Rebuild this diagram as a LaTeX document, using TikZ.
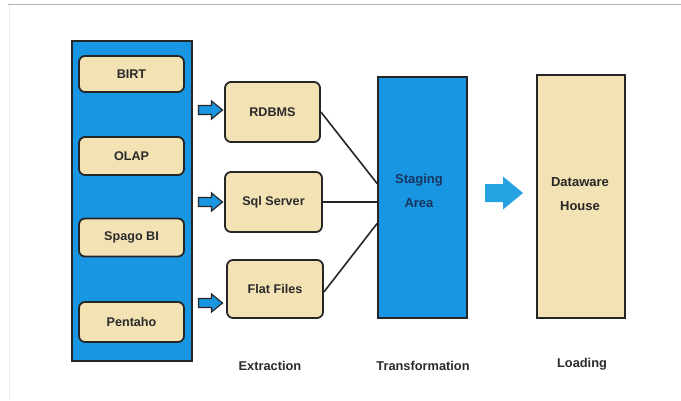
\documentclass[tikz,border=0pt]{standalone}
\usepackage{fontspec}
\setmainfont{Liberation Sans}
\usetikzlibrary{calc}
\definecolor{etlblue}{HTML}{1996E1}
\definecolor{etlblueb}{HTML}{25A2E2}
\definecolor{etltan}{HTML}{F2E2B4}
\definecolor{etltext}{HTML}{2A2A2A}
\definecolor{etlstage}{HTML}{17355F}
\begin{document}
\begin{tikzpicture}[x=1pt,y=-1pt,
  panelbox/.style={draw=black!85,line width=1.8pt,fill=etlblue,inner sep=0pt},
  toolbox/.style={draw=black!85,line width=1.8pt,fill=etltan,rounded corners=6pt,inner sep=0pt,
     font=\bfseries\fontsize{12.6}{15}\selectfont,text=etltext},
  bigbox/.style={draw=black!85,line width=1.8pt,inner sep=0pt},
  bigtext/.style={align=center,inner sep=0pt,font=\bfseries\fontsize{13}{24}\selectfont},
  phase/.style={font=\bfseries\fontsize{12.8}{15}\selectfont,text=etltext},
  link/.style={draw=black!85,line width=1.6pt},
  smallarrow/.pic={\draw[fill=etlblue,draw=black!85,line width=1.2pt,line join=miter]
     (-12,-4.5) -- (1,-4.5) -- (1,-9) -- (12,0) -- (1,9) -- (1,4.5) -- (-12,4.5) -- cycle;},
  bigarrow/.pic={\fill[etlblueb]
     (-19,-9) -- (-1,-9) -- (-1,-16.5) -- (19,0) -- (-1,16.5) -- (-1,9) -- (-19,9) -- cycle;}
]
\useasboundingbox (0,0) rectangle (681,400);
\draw[black!30,line width=1.5pt] (8,4.5) -- (681,4.5);
\draw[black!7,line width=1pt] (9,5) -- (9,400);

% left panel with tools
\node[panelbox,minimum width=120,minimum height=320] (panel) at (132,201) {};
\node[toolbox,minimum width=105,minimum height=36] (birt) at (131.5,74) {BIRT};
\node[toolbox,minimum width=105,minimum height=38] (olap) at (131.5,156) {OLAP};
\node[toolbox,minimum width=105,minimum height=38] (spago) at (131.5,237.5) {Spago BI};
\node[toolbox,minimum width=105,minimum height=40] (pentaho) at (131.5,322) {Pentaho};

% sources
\node[toolbox,minimum width=95,minimum height=60] (rdbms) at (272.5,112) {RDBMS};
\node[toolbox,minimum width=97,minimum height=60] (sql) at (273.5,202) {Sql Server};
\node[toolbox,minimum width=96,minimum height=58] (flat) at (275,289) {Flat Files};

% small arrows
\pic at (210.5,110) {smallarrow};
\pic at (210.5,202) {smallarrow};
\pic at (210.5,303) {smallarrow};

% staging and warehouse
\node[bigbox,fill=etlblue,minimum width=89,minimum height=241] (stage) at (422.5,197.5) {};
\node[bigtext,text=etlstage] (stagetxt) at (419,191) {Staging\\Area};
\node[bigbox,fill=etltan,minimum width=88,minimum height=243] (dw) at (581,196.5) {};
\node[bigtext,text=black!85] (dwtxt) at (580,194) {Dataware\\House};

% links
\draw[link] (rdbms.east) -- ($(stage.west)+(0,-14)$);
\draw[link] (sql.east) -- (sql.east -| stage.west);
\draw[link] ($(flat.east)+(0,3)$) -- ($(stage.west)+(0,26)$);

% big arrow
\pic at (504,193) {bigarrow};

% phase labels
\node[phase] (ext) at (270,366) {Extraction};
\node[phase] (trans) at (423,366) {Transformation};
\node[phase] (load) at (582,364) {Loading};
\end{tikzpicture}
\end{document}
